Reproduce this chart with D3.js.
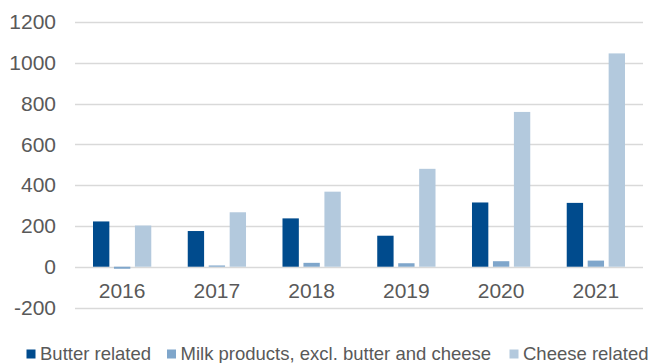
<!DOCTYPE html>
<html>
<head>
<meta charset="utf-8">
<script src="https://cdn.jsdelivr.net/npm/d3@7"></script>
<style>
  body { margin: 0; background: #fff; }
  svg { display: block; font-family: "Liberation Sans", Arial, sans-serif; }
</style>
</head>
<body>
<svg id="chart" width="651" height="363"></svg>
<script>
  const years = ['2016', '2017', '2018', '2019', '2020', '2021'];
  const seriesNames = ['Butter related', 'Milk products, excl. butter and cheese', 'Cheese related'];
  const butter = [222, 175, 237, 152, 315, 313];
  const milk = [-10, 6, 19, 17, 27, 30];
  const cheese = [202, 267, 368, 480, 759, 1046];
  const yTicks = [-200, 0, 200, 400, 600, 800, 1000, 1200];
  const colors = ['#004b8d', '#7fa6cb', '#b3c9dd'];

  const series = [butter, milk, cheese];
  const svg = d3.select('#chart');
  const plot = { left: 75, right: 643, top: 22, bottom: 307.5 };

  const y = d3.scaleLinear().domain([-200, 1200]).range([plot.bottom, plot.top]);
  const x = d3.scaleBand().domain(years).range([plot.left, plot.right]).paddingInner(0.385).paddingOuter(0.19);
  const xs = d3.scaleBand().domain(d3.range(series.length)).range([0, x.bandwidth()]).paddingInner(0.22);

  // gridlines
  svg.append('g').selectAll('line').data(yTicks).join('line')
    .attr('x1', plot.left).attr('x2', plot.right)
    .attr('y1', function (d) { return Math.round(y(d)) + 0.5; })
    .attr('y2', function (d) { return Math.round(y(d)) + 0.5; })
    .attr('stroke', '#d9d9d9').attr('stroke-width', 1.5);

  // y labels
  svg.append('g').selectAll('text').data(yTicks).join('text')
    .attr('x', 56).attr('y', function (d) { return y(d); })
    .attr('dy', '0.35em').attr('text-anchor', 'end')
    .attr('fill', '#595959').attr('font-size', 21)
    .text(function (d) { return d; });

  // bars
  series.forEach(function (vals, si) {
    svg.append('g').selectAll('rect').data(vals).join('rect')
      .attr('x', function (d, i) { return x(years[i]) + xs(si); })
      .attr('width', xs.bandwidth())
      .attr('y', function (d) { return y(Math.max(0, d)); })
      .attr('height', function (d) { return Math.abs(y(d) - y(0)); })
      .attr('fill', colors[si]);
  });

  // x labels
  svg.append('g').selectAll('text').data(years).join('text')
    .attr('x', function (d) { return x(d) + x.bandwidth() / 2; })
    .attr('y', 291).attr('dy', '0.35em').attr('text-anchor', 'middle')
    .attr('fill', '#595959').attr('font-size', 21)
    .text(function (d) { return d; });

  // legend
  const legendX = [26.5, 167, 509.5];
  const lg = svg.append('g');
  seriesNames.forEach(function (name, i) {
    lg.append('rect').attr('x', legendX[i]).attr('y', 349.5).attr('width', 9).attr('height', 9).attr('fill', colors[i]);
    lg.append('text').attr('x', legendX[i] + 13.5).attr('y', 353.5).attr('dy', '0.35em')
      .attr('fill', '#595959').attr('font-size', 18.5).text(name);
  });
</script>
</body>
</html>
